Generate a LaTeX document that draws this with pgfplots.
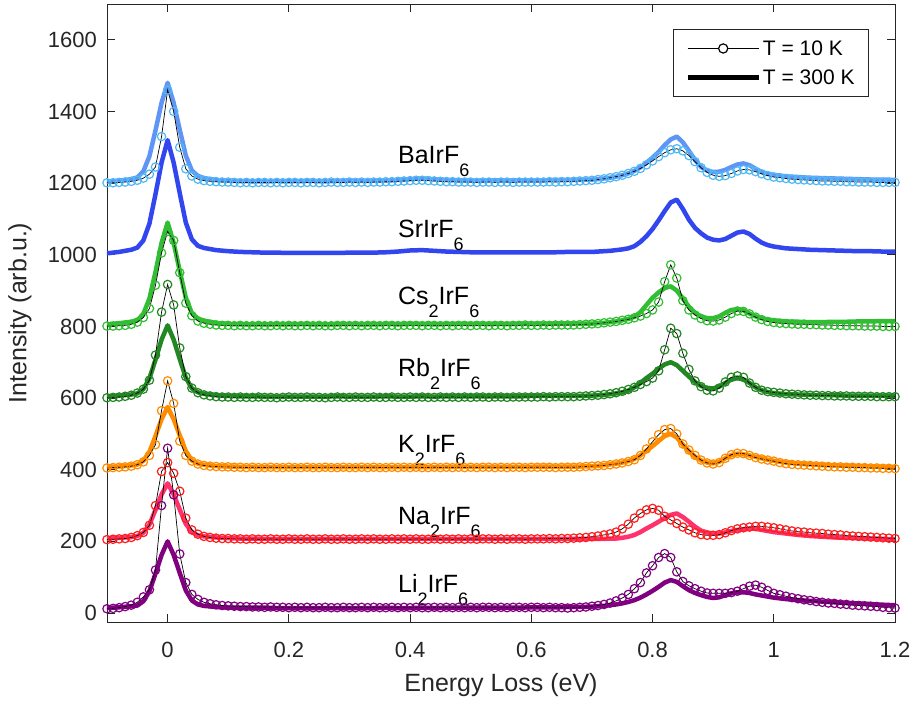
\documentclass[border=0pt]{standalone}
\usepackage{pgfplots}
\pgfplotsset{compat=1.18}
\usepackage{pgfplotstable}
\usepackage{fontspec}
\setmainfont{Liberation Sans}
\usetikzlibrary{calc}

\definecolor{baL}{RGB}{95,150,245}
\definecolor{baM}{RGB}{80,185,245}
\definecolor{srC}{RGB}{50,70,240}
\definecolor{csC}{RGB}{50,190,50}
\definecolor{rbC}{RGB}{35,135,35}
\definecolor{kC}{RGB}{255,140,0}
\definecolor{naL}{RGB}{255,50,110}
\definecolor{naM}{RGB}{255,30,30}
\definecolor{liC}{RGB}{128,0,128}
\definecolor{axisgray}{RGB}{38,38,38}

\newcommand{\sub}[1]{\raisebox{-13pt}{\fontsize{18}{18}\selectfont #1}}

% T = 10 K data
\pgfplotstableread{
x ba cs rb k na li
-0.10 1201 801 601 405 205 12
-0.09 1201 801 602 406 206 13
-0.08 1202 802 603 407 207 15
-0.07 1203 803 605 408 208 18
-0.06 1205 806 608 410 211 22
-0.05 1208 812 614 414 216 30
-0.04 1214 825 625 422 225 45
-0.03 1225 850 650 440 245 65
-0.02 1245 915 720 470 300 120
-0.01 1330 1005 840 565 395 300
0.00 1460 1065 917 648 420 460
0.01 1400 1040 860 585 390 330
0.02 1300 950 740 480 340 165
0.03 1240 865 660 440 265 85
0.04 1220 830 628 424 232 52
0.05 1211 815 615 416 220 38
0.06 1207 809 609 412 214 30
0.07 1205 806 606 410 211 26
0.08 1204 804 604 409 209 23
0.09 1203 803 603 408 208 21
0.10 1203 803 603 408 208 20
0.11 1202 802 602 407 207 19
0.12 1201 803 603 407 207 18
0.13 1202 802 602 406 206 18
0.14 1201 802 602 407 207 17
0.15 1202 803 603 406 206 17
0.16 1202 802 602 406 206 16
0.17 1201 802 602 407 207 17
0.18 1202 803 601 406 206 16
0.19 1201 802 602 406 206 16
0.20 1202 803 603 407 207 15
0.21 1202 802 602 406 206 16
0.22 1201 802 602 406 206 15
0.23 1202 803 603 407 207 16
0.24 1202 802 602 406 206 15
0.25 1201 803 602 406 206 15
0.26 1202 802 601 407 207 16
0.27 1203 802 602 406 206 15
0.28 1202 803 603 406 206 15
0.29 1202 803 602 407 207 16
0.30 1203 802 602 406 206 15
0.31 1202 803 603 406 206 15
0.32 1203 802 602 407 207 16
0.33 1202 803 602 406 206 15
0.34 1203 803 603 407 207 16
0.35 1203 802 602 406 206 15
0.36 1204 803 602 406 206 15
0.37 1204 803 603 407 207 16
0.38 1205 802 602 406 206 15
0.39 1206 803 602 407 207 16
0.40 1207 803 603 406 206 15
0.41 1208 803 602 407 207 16
0.42 1208 802 603 406 206 15
0.43 1207 803 602 406 206 15
0.44 1206 803 602 407 207 16
0.45 1205 802 603 406 206 15
0.46 1204 803 602 407 207 16
0.47 1204 802 603 406 206 15
0.48 1203 803 602 407 207 16
0.49 1203 803 603 406 206 15
0.50 1203 802 602 407 207 16
0.51 1202 803 603 406 206 15
0.52 1203 803 603 407 207 16
0.53 1203 802 602 407 207 16
0.54 1202 803 603 406 206 15
0.55 1203 803 603 407 207 16
0.56 1203 802 602 406 206 15
0.57 1202 803 603 407 207 16
0.58 1203 803 603 407 207 16
0.59 1203 804 603 406 206 15
0.60 1203 803 603 407 207 16
0.61 1203 803 603 407 207 16
0.62 1203 804 604 407 207 15
0.63 1204 803 603 407 208 16
0.64 1203 804 604 406 207 15
0.65 1204 804 604 407 208 15
0.66 1204 804 604 407 208 14
0.67 1205 804 604 407 209 15
0.68 1206 805 605 408 210 16
0.69 1207 806 606 409 211 17
0.70 1208 807 607 410 213 19
0.71 1210 808 608 411 215 21
0.72 1212 810 610 412 218 24
0.73 1215 812 612 414 221 28
0.74 1218 814 615 416 226 34
0.75 1222 817 619 419 235 42
0.76 1227 820 624 423 248 52
0.77 1233 824 630 428 265 68
0.78 1241 829 638 440 278 85
0.79 1251 836 646 458 288 112
0.80 1262 846 656 478 292 132
0.81 1274 868 676 498 287 155
0.82 1285 925 735 512 270 166
0.83 1293 972 795 515 260 155
0.84 1296 935 780 500 250 115
0.85 1290 872 725 472 240 88
0.86 1277 846 680 455 232 76
0.87 1260 832 648 440 224 68
0.88 1243 822 632 427 219 61
0.89 1230 816 622 419 217 56
0.90 1222 815 620 416 217 55
0.91 1219 818 628 420 219 55
0.92 1221 826 645 432 224 55
0.93 1227 836 658 442 230 57
0.94 1234 843 662 446 235 61
0.95 1238 842 658 445 238 68
0.96 1237 835 642 440 240 75
0.97 1232 826 630 434 242 78
0.98 1226 819 622 430 242 72
0.99 1221 814 618 427 240 63
1.00 1217 811 616 424 238 55
1.01 1215 809 614 420 235 51
1.02 1213 808 612 417 232 47
1.03 1211 807 611 415 229 43
1.04 1210 806 610 414 227 40
1.05 1209 806 609 413 226 37
1.06 1208 805 608 412 224 35
1.07 1207 805 608 411 223 32
1.08 1206 804 607 410 222 30
1.09 1206 804 607 409 220 28
1.10 1205 803 606 408 219 27
1.11 1205 803 606 408 218 25
1.12 1204 802 606 407 216 24
1.13 1204 802 605 407 215 22
1.14 1203 802 605 406 214 21
1.15 1203 801 605 406 213 20
1.16 1203 801 605 405 212 19
1.17 1202 801 604 405 211 18
1.18 1202 800 604 404 210 16
1.19 1202 800 604 404 209 15
1.20 1202 800 604 403 208 14
}\cold

% T = 300 K data
\pgfplotstableread{
x ba sr cs rb k na li
-0.10 1204 1004 806 605 408 208 14
-0.08 1207 1008 809 607 409 210 16
-0.06 1211 1014 813 610 412 212 19
-0.05 1216 1020 817 613 414 215 21
-0.04 1233 1040 835 625 425 224 33
-0.03 1275 1087 878 655 450 247 61
-0.02 1347 1169 952 707 494 288 110
-0.01 1424 1257 1033 763 541 331 162
0.00 1480 1320 1090 803 575 362 200
0.01 1424 1257 1033 763 541 331 162
0.02 1349 1172 955 709 496 289 112
0.03 1277 1090 880 657 452 249 63
0.04 1235 1043 837 627 426 226 35
0.05 1220 1025 822 616 417 217 24
0.06 1214 1019 816 612 414 214 20
0.08 1209 1013 810 608 410 211 17
0.10 1207 1010 807 606 409 209 15
0.12 1206 1008 806 605 408 208 15
0.14 1205 1007 806 605 408 208 15
0.16 1205 1006 806 604 407 207 15
0.18 1206 1006 806 604 407 207 14
0.20 1205 1005 806 604 407 207 14
0.22 1206 1005 807 604 407 207 14
0.24 1206 1005 806 604 407 207 14
0.26 1205 1005 806 604 407 207 14
0.28 1206 1005 806 605 407 207 14
0.30 1207 1006 807 604 407 207 14
0.32 1206 1006 806 604 407 207 14
0.34 1207 1006 806 604 407 207 14
0.36 1207 1007 807 605 407 207 15
0.38 1209 1009 806 604 407 207 14
0.40 1211 1012 807 604 407 207 14
0.42 1213 1013 807 605 407 207 15
0.44 1211 1011 806 604 407 207 14
0.46 1209 1009 807 605 408 207 15
0.48 1208 1008 807 605 408 207 15
0.50 1207 1007 807 605 408 207 15
0.52 1207 1007 807 605 408 207 15
0.54 1208 1007 807 605 408 207 15
0.56 1207 1007 807 605 408 207 15
0.58 1208 1007 807 605 408 207 15
0.60 1208 1007 807 606 408 207 16
0.62 1208 1007 807 606 409 207 16
0.64 1209 1007 808 606 409 207 16
0.66 1209 1008 808 606 409 207 17
0.68 1209 1008 808 606 409 207 17
0.70 1210 1008 808 607 410 207 18
0.71 1211 1009 809 608 411 207 19
0.72 1213 1010 810 609 413 207 20
0.73 1215 1011 812 611 415 208 22
0.74 1218 1013 814 613 417 208 24
0.75 1222 1015 817 616 420 210 27
0.76 1227 1018 821 621 424 213 31
0.77 1234 1024 827 630 430 218 36
0.78 1244 1036 840 642 440 226 43
0.79 1257 1052 860 656 453 236 52
0.80 1271 1072 880 668 466 245 62
0.81 1287 1096 895 682 480 255 73
0.82 1306 1122 907 694 494 265 85
0.83 1322 1146 912 700 500 274 92
0.84 1330 1154 900 692 490 278 87
0.85 1314 1128 878 676 470 268 75
0.86 1290 1098 855 660 452 255 64
0.87 1265 1075 838 645 437 241 56
0.88 1245 1060 828 634 426 230 50
0.89 1235 1048 823 628 420 225 45
0.90 1231 1042 823 627 418 222 42
0.91 1232 1040 828 632 422 222 44
0.92 1237 1044 838 642 432 225 50
0.93 1245 1053 846 652 441 229 55
0.94 1252 1062 848 656 445 232 58
0.95 1255 1065 845 652 443 234 58
0.96 1250 1058 836 642 440 236 56
0.97 1240 1045 828 630 436 235 52
0.98 1231 1034 823 622 432 232 49
0.99 1226 1027 819 617 428 229 46
1.00 1223 1023 817 614 425 226 43
1.02 1219 1018 814 611 420 222 39
1.04 1217 1016 813 610 417 218 36
1.06 1215 1014 812 609 415 215 34
1.08 1214 1013 812 608 413 213 32
1.10 1213 1012 813 608 412 211 30
1.12 1212 1011 813 607 411 210 28
1.14 1211 1010 814 607 410 209 27
1.16 1210 1010 814 607 409 208 25
1.18 1210 1009 815 607 408 207 23
1.20 1209 1009 815 607 407 206 22
}\hot

\pgfplotsset{
  hotline/.style={line width=4.5pt, line join=round, line cap=round, mark=none, forget plot},
  coldline/.style={black, line width=0.7pt, mark=o, mark size=4.2pt,
    mark options={solid, line width=1.2pt, draw=#1, fill=none}, forget plot},
}

\begin{document}
\begin{tikzpicture}
\begin{axis}[
  name=ax,
  scale only axis, width=788pt, height=618pt,
  xmin=-0.1, xmax=1.2, ymin=-25, ymax=1700,
  xtick={0,0.2,0.4,0.6,0.8,1,1.2},
  xticklabels={0,0.2,0.4,0.6,0.8,1,1.2},
  ytick={0,200,400,600,800,1000,1200,1400,1600},
  /pgf/number format/1000 sep={},
  /pgf/number format/assume math mode=true,
  tick align=inside, major tick length=8pt,
  axis line style={color=axisgray, line width=0.8pt},
  tick style={color=axisgray, line width=0.8pt},
  ticklabel style={font=\fontsize{22}{26}\selectfont, text=axisgray},
  xticklabel style={anchor=center, yshift=-28pt},
  yticklabel style={anchor=east, inner xsep=0pt, xshift=-10pt},
  every axis x label/.style={at={(axis description cs:0.5,-0.1019)}, anchor=center, font=\fontsize{25}{30}\selectfont, text=axisgray},
  every axis y label/.style={at={(axis description cs:-0.1104,0.5)}, rotate=90, anchor=center, font=\fontsize{25}{30}\selectfont, text=axisgray},
  xlabel={Energy Loss (eV)},
  ylabel={Intensity (arb.u.)},
  legend style={at={(1,1)}, anchor=north east, xshift=-26pt, yshift=-25pt,
    draw=axisgray, line width=0.8pt, font=\fontsize{21}{24}\selectfont,
    inner xsep=12pt, inner ysep=9pt, row sep=9pt},
  legend cell align=left,
]
\addlegendimage{legend image code/.code={\draw[black, line width=0.7pt] (0pt,0pt) -- (71pt,0pt); \draw[black, line width=1.2pt, fill=white] (35.5pt,0pt) circle (4.6pt);}}
\addlegendentry{T = 10 K}
\addlegendimage{legend image code/.code={\draw[black, line width=4.5pt] (0pt,0pt) -- (71pt,0pt);}}
\addlegendentry{T = 300 K}

% BaIrF6
\addplot[hotline, color=baL] table[x=x, y=ba] {\hot};
\addplot[coldline=baM] table[x=x, y=ba] {\cold};
% SrIrF6
\addplot[hotline, color=srC] table[x=x, y=sr] {\hot};
% Cs2IrF6
\addplot[hotline, color=csC] table[x=x, y=cs] {\hot};
\addplot[coldline=csC] table[x=x, y=cs] {\cold};
% Rb2IrF6
\addplot[hotline, color=rbC] table[x=x, y=rb] {\hot};
\addplot[coldline=rbC] table[x=x, y=rb] {\cold};
% K2IrF6
\addplot[hotline, color=kC] table[x=x, y=k] {\hot};
\addplot[coldline=kC] table[x=x, y=k] {\cold};
% Na2IrF6
\addplot[hotline, color=naL] table[x=x, y=na] {\hot};
\addplot[coldline=naM] table[x=x, y=na] {\cold};
% Li2IrF6
\addplot[hotline, color=liC] table[x=x, y=li] {\hot};
\addplot[coldline=liC] table[x=x, y=li] {\cold};

\begin{scope}[every node/.style={anchor=base west, font=\fontsize{25}{30}\selectfont, text=black, inner sep=0pt}]
\node at (axis cs:0.380,1256) {BaIrF\sub{6}};
\node at (axis cs:0.380,1049) {SrIrF\sub{6}};
\node at (axis cs:0.380,860) {Cs\sub{2}IrF\sub{6}};
\node at (axis cs:0.380,659) {Rb\sub{2}IrF\sub{6}};
\node at (axis cs:0.380,449) {K\sub{2}IrF\sub{6}};
\node at (axis cs:0.380,246) {Na\sub{2}IrF\sub{6}};
\node at (axis cs:0.380,56) {Li\sub{2}IrF\sub{6}};
\end{scope}
\end{axis}
\pgfresetboundingbox
\path[use as bounding box] ($(ax.south west)+(-107pt,-82pt)$) rectangle ($(ax.north east)+(17pt,4pt)$);
\end{tikzpicture}
\end{document}
